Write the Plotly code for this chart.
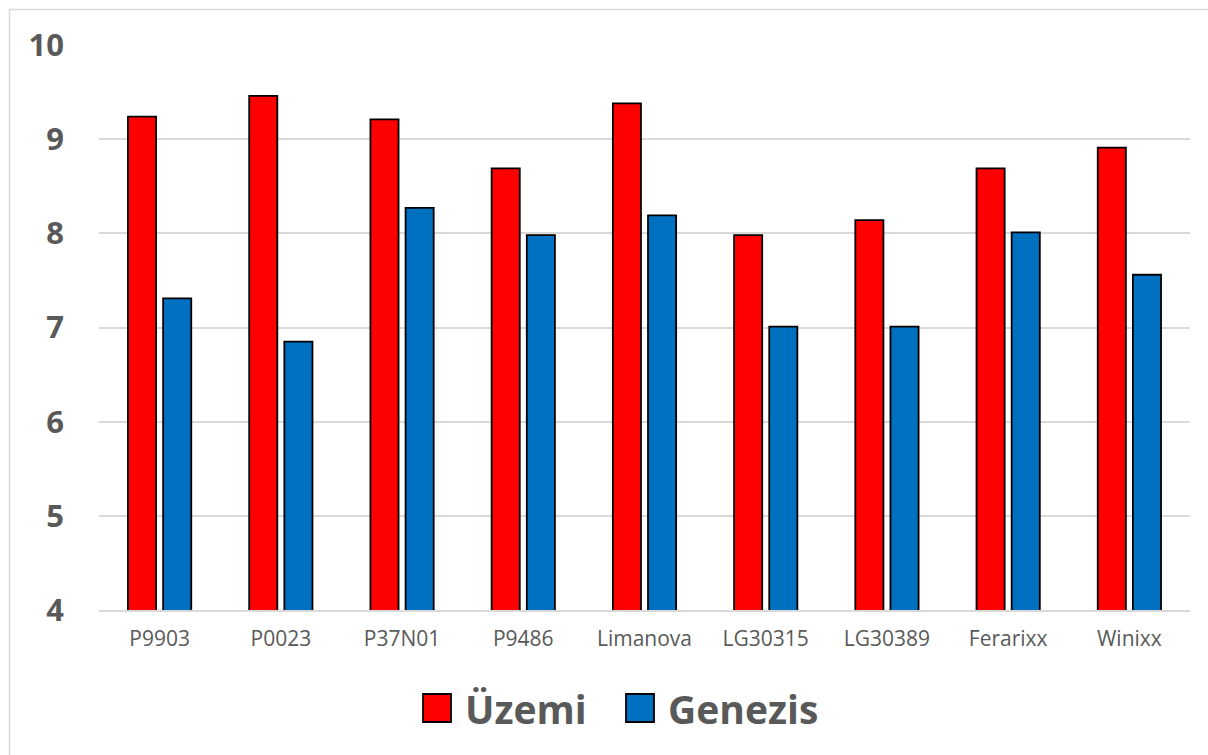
import plotly.graph_objects as go

categories = ["P9903", "P0023", "P37N01", "P9486", "Limanova", "LG30315", "LG30389", "Ferarixx", "Winixx"]
uzemi = [9.24, 9.46, 9.21, 8.69, 9.38, 7.98, 8.14, 8.69, 8.91]
genezis = [7.31, 6.85, 8.27, 7.98, 8.19, 7.01, 7.01, 8.01, 7.56]
series_names = ["Üzemi", "Genezis"]
series_colors = ["#FF0000", "#0070C0"]
y_ticks = [4, 5, 6, 7, 8, 9, 10]

fig = go.Figure()
for name, vals, col in zip(series_names, [uzemi, genezis], series_colors):
    fig.add_trace(go.Bar(
        x=categories, y=vals, name=name,
        marker=dict(color=col, line=dict(color="#000000", width=1.8)),
        showlegend=False,
    ))

# Manual legend (large squares like the original)
legend_items = [(series_names[0], series_colors[0], 423), (series_names[1], series_colors[1], 626)]
W, H = 1208, 755
L, R, T, B = 99, 18, 45, 145
pw, ph = W - L - R, H - T - B

def px_x(x):
    return (x - L) / pw

def px_y(y):
    return (H - B - y) / ph

shapes = []
annotations = []
for name, col, x0 in legend_items:
    shapes.append(dict(type="rect", xref="paper", yref="paper",
                       x0=px_x(x0), x1=px_x(x0 + 28), y0=px_y(722), y1=px_y(694),
                       fillcolor=col, line=dict(color="#000000", width=1.8)))
    annotations.append(dict(xref="paper", yref="paper", x=px_x(x0 + 40), y=px_y(708),
                            text=name, showarrow=False, xanchor="left", yanchor="middle",
                            font=dict(family="Open Sans", size=39, color="#595959", weight="bold")))

# outer chart border
shapes.append(dict(type="rect", xref="paper", yref="paper",
                   x0=px_x(9.5), x1=px_x(1215), y0=px_y(770), y1=px_y(9.5),
                   line=dict(color="#D9D9D9", width=1.5), fillcolor="rgba(0,0,0,0)", layer="below"))

fig.update_layout(
    width=W, height=H,
    margin=dict(l=L, r=R, t=T, b=B),
    paper_bgcolor="white", plot_bgcolor="white",
    barmode="group", bargap=0.42, bargroupgap=0.2,
    shapes=shapes, annotations=annotations,
    xaxis=dict(tickfont=dict(family="Open Sans", size=21, color="#595959"),
               showgrid=False, showline=True, linecolor="#D9D9D9", linewidth=2,
               ticks="", ticklabelstandoff=9),
    yaxis=dict(range=[4, 10], tickvals=y_ticks, showgrid=True, gridcolor="#D9D9D9", gridwidth=1.5,
               zeroline=False, showline=False, ticks="",
               tickfont=dict(family="Open Sans", size=31, color="#595959", weight="bold"),
               ticklabelstandoff=34),
)

fig.write_html("out.html", config={"displayModeBar": False},
               post_script="document.body.style.margin='0';document.body.style.overflow='hidden';")
